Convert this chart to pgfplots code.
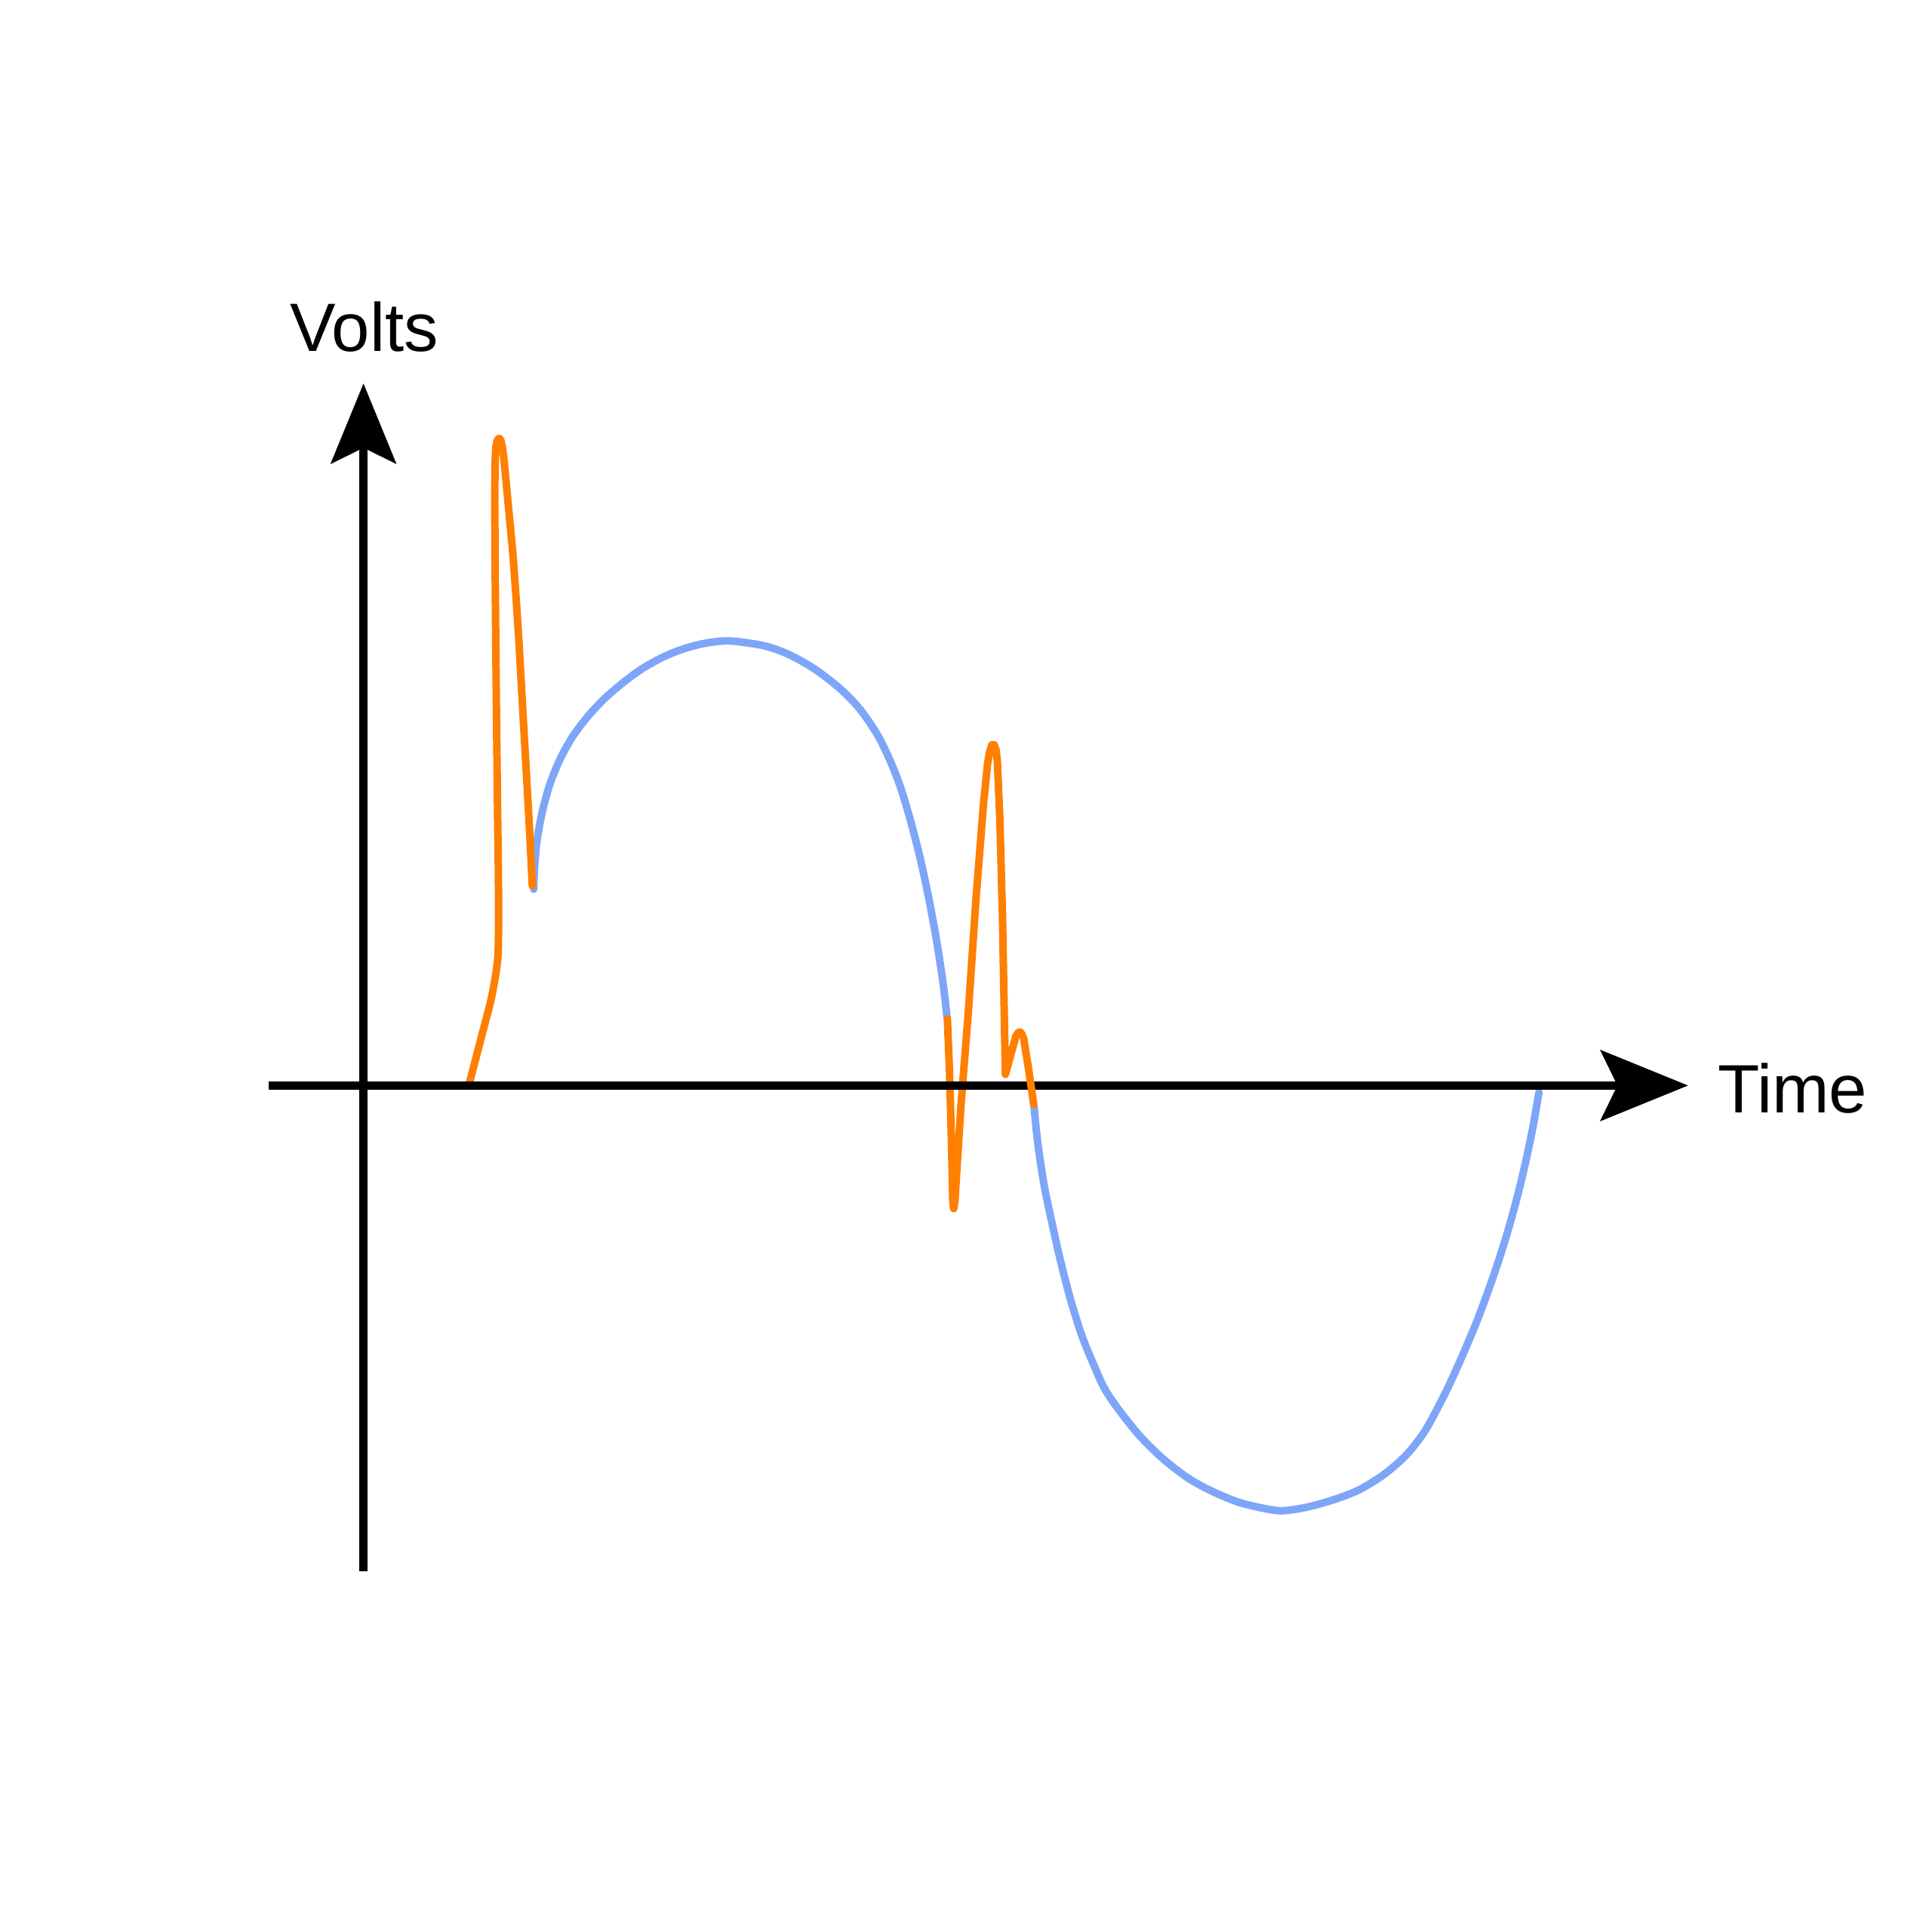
\documentclass[border=0pt]{standalone}
\usepackage{pgfplots}
\pgfplotsset{compat=1.18}
\usetikzlibrary{arrows.meta}
\usepackage{fontspec}
\setmainfont{Liberation Sans}

\definecolor{spike}{HTML}{FF7F00}
\definecolor{wave}{HTML}{7EA6F8}

\begin{document}
\begin{tikzpicture}
\begin{axis}[
  width=15.68cm, height=15.68cm, scale only axis,
  xmin=-295, xmax=1273, ymin=-687, ymax=881,
  hide axis, clip=false,
  every axis plot/.append style={line cap=round, line join=round},
]
% keep the whole square page
\path (axis cs:-295,-687) rectangle (axis cs:1273,881);
% blue carrier wave
\addplot[wave, line width=1.74pt, smooth] coordinates {
  (138.2,159.3) (138.8,176.6) (140.9,199.1) (145,221.6) (151.1,244)
  (159.3,264.4) (169.5,282.8) (181.7,299.1) (195,313.4) (210.3,326.7)
  (225.6,337.9) (241.9,347.1) (258.3,353.9) (276.6,358.8) (297.1,360.8)
  (325.6,356.8) (346.1,349.4) (366.5,337.8) (386.9,322) (403.2,305.1)
  (417.5,284) (427.7,263) (435.9,241.9) (444.1,214.5) (452.2,182.8)
  (459.4,149) (465.5,115.3) (470.6,81.6) (473.7,54.2)};
\addplot[wave, line width=1.74pt, smooth] coordinates {
  (544.1,-15.7) (547.2,-46.3) (552.3,-80.3) (558.4,-109.7) (565.5,-141.4)
  (573.7,-173.2) (582.9,-202.6) (592.1,-225.3) (601.3,-245.7) (613.5,-263.8)
  (629.9,-284.2) (648.2,-302.3) (668.6,-318.2) (689.1,-329.5) (711.5,-338.6)
  (736,-344.2) (748,-345) (766.6,-342) (787,-336.3) (807.5,-328.4)
  (827.9,-315.9) (846.2,-300) (860.5,-281.9) (870.7,-263.8) (881,-243.4)
  (893.2,-216.2) (905.4,-186.8) (917.7,-152.8) (927.9,-121.1) (936.1,-91.6)
  (943.2,-62.1) (949.3,-32.7) (954,-5.5)};
% orange spikes
\addplot[spike, line width=1.74pt, smooth] coordinates {
  (85.7,1) (95.9,40.1) (104.1,72.4) (108.8,101.2) (109.6,126.3)
  (109.5,170) (108.8,227) (107.6,335) (106.7,443) (106.7,496.4) (107.6,519)
  (109.5,525) (111.5,523.5) (113.3,514) (115.2,496) (117.8,468)
  (121.5,428) (125.5,371) (129.6,299) (134.7,209) (137,162)};
\addplot[spike, line width=1.74pt] coordinates {
  (473.9,54) (475.7,9.4) (477.1,-42) (478.3,-94) (479,-100)
  (480,-94) (480.8,-80.8) (484.9,-16.4) (491,61) (497.1,151.2)
  (503.2,228.5) (506.5,261) (508,270) (510,276.5) (512,276.5)
  (513.5,272) (514.5,262) (516.5,215.7) (518.6,138.3) (520,61) (521,9)
  (526.7,30) (529.5,40) (531.5,43)};
% axes
\addplot[black, line width=2.03pt, line cap=butt, -{Stealth[length=0.715cm, width=0.582cm, inset=0.142cm, line width=0pt]}]
  coordinates {(-77,0) (1075,0)};
\addplot[black, line width=2.03pt, line cap=butt, -{Stealth[length=0.654cm, width=0.537cm, inset=0.133cm, line width=0pt]}]
  coordinates {(0,-394) (0,569.7)};
% last orange piece lies over the time axis
\addplot[spike, line width=1.74pt] coordinates {
  (531.5,43) (533,43.5) (534.5,41.5) (535.9,37.8) (540,12) (544,-15.5)};
\node[anchor=base west, inner sep=0pt, font=\fontsize{15.8pt}{19pt}\selectfont]
  at (axis cs:-60.2,595.6) {Volts};
\node[anchor=base west, inner sep=0pt, font=\fontsize{15.8pt}{19pt}\selectfont]
  at (axis cs:1098.5,-22.4) {Time};
\end{axis}
\end{tikzpicture}
\end{document}
